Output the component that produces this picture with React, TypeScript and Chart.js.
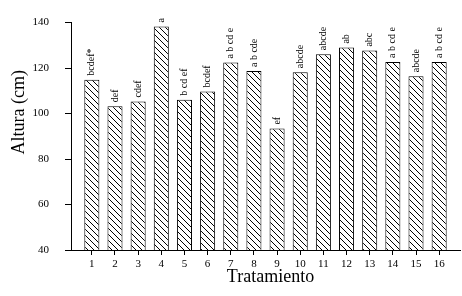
import React, { useEffect, useRef } from "react";
import { Chart, registerables } from "chart.js";

Chart.register(...registerables);

const treatments: number[] = [1, 2, 3, 4, 5, 6, 7, 8, 9, 10, 11, 12, 13, 14, 15, 16];
const heights: number[] = [114.9, 103.2, 105.3, 138.3, 106.1, 109.7, 122.4, 118.7, 93.4, 118.2, 126.1, 129.0, 127.7, 122.7, 116.4, 122.7];
const letters: string[] = [
  "bcdef*", "def", "cdef", "a", "b cd ef", "bcdef", "a b cd e", "a b cde",
  "ef", "abcde", "abcde", "ab", "abc", "a b cd e", "abcde", "a b cd e",
];
const yTitle = "Altura (cm)";
const xTitle = "Tratamiento";

const SERIF = '"Liberation Serif", "Times New Roman", serif';

function makeHatch(): CanvasPattern | string {
  const c = document.createElement("canvas");
  c.width = 6;
  c.height = 6;
  const g = c.getContext("2d");
  if (!g) return "#fff";
  g.fillStyle = "#ffffff";
  g.fillRect(0, 0, 6, 6);
  g.fillStyle = "#000000";
  for (let i = 0; i < 6; i++) g.fillRect(i, i, 1, 1);
  return g.createPattern(c, "repeat") || "#fff";
}

const annotatePlugin = {
  id: "annotate",
  afterDatasetsDraw(chart: any) {
    const ctx = chart.ctx;
    const meta = chart.getDatasetMeta(0);
    ctx.save();
    ctx.fillStyle = "#000";
    ctx.font = `10px ${SERIF}`;
    meta.data.forEach((bar: any, i: number) => {
      ctx.save();
      ctx.translate(bar.x, bar.y - 4);
      ctx.rotate(-Math.PI / 2);
      ctx.textAlign = "left";
      ctx.textBaseline = "middle";
      ctx.fillText(letters[i], 0, 0);
      ctx.restore();
    });
    ctx.restore();
  },
  afterDraw(chart: any) {
    const ctx = chart.ctx;
    const area = chart.chartArea;
    ctx.save();
    ctx.fillStyle = "#000";
    ctx.font = `18px ${SERIF}`;
    ctx.textAlign = "center";
    ctx.textBaseline = "alphabetic";
    ctx.fillText(xTitle, (area.left + area.right) / 2 + 5, area.bottom + 32);
    ctx.save();
    ctx.translate(area.left - 47, (area.top + area.bottom) / 2 - 24);
    ctx.rotate(-Math.PI / 2);
    ctx.textAlign = "center";
    ctx.textBaseline = "alphabetic";
    ctx.fillText(yTitle, 0, 0);
    ctx.restore();
    ctx.restore();
  },
};

export default function App() {
  const ref = useRef<HTMLCanvasElement | null>(null);

  useEffect(() => {
    if (!ref.current) return;
    const hatch = makeHatch();
    const chart = new Chart(ref.current, {
      type: "bar",
      data: {
        datasets: [
          {
            data: treatments.map((t, i) => ({ x: t, y: heights[i] })),
            backgroundColor: hatch as any,
            borderColor: "#000",
            borderWidth: 1,
            borderSkipped: "start",
            categoryPercentage: 1,
            barPercentage: 0.65,
          },
        ],
      },
      options: {
        responsive: false,
        animation: false,
        layout: { padding: { top: 11, right: 2, left: 0, bottom: 0 } },
        plugins: { legend: { display: false }, tooltip: { enabled: false } },
        scales: {
          x: {
            type: "linear",
            offset: false,
            min: 0.1,
            max: 16.9,
            afterBuildTicks: (axis: any) => {
              axis.ticks = treatments.map((v) => ({ value: v }));
            },
            afterFit: (s: any) => {
              s.height = 46;
            },
            grid: {
              offset: false,
              drawOnChartArea: false,
              drawTicks: true,
              tickLength: 5,
              tickColor: "#000",
            },
            border: { display: true, color: "#000", width: 1 },
            ticks: {
              color: "#000",
              padding: 3,
              autoSkip: false,
              maxRotation: 0,
              font: { family: SERIF, size: 11 },
              callback: (v: any) => String(v),
            },
          },
          y: {
            type: "linear",
            min: 40,
            max: 140,
            afterFit: (s: any) => {
              s.width = 71;
            },
            grid: {
              drawOnChartArea: false,
              drawTicks: true,
              tickLength: 6,
              tickColor: "#000",
            },
            border: { display: true, color: "#000", width: 1 },
            ticks: {
              stepSize: 20,
              color: "#000",
              padding: 16,
              font: { family: SERIF, size: 11 },
            },
          },
        },
      },
      plugins: [annotatePlugin],
    });
    return () => chart.destroy();
  }, []);

  return (
    <div style={{ position: "absolute", left: 0, top: 0, width: 462, height: 296, background: "#fff" }}>
      <canvas ref={ref} width={462} height={296} style={{ display: "block" }} />
    </div>
  );
}
